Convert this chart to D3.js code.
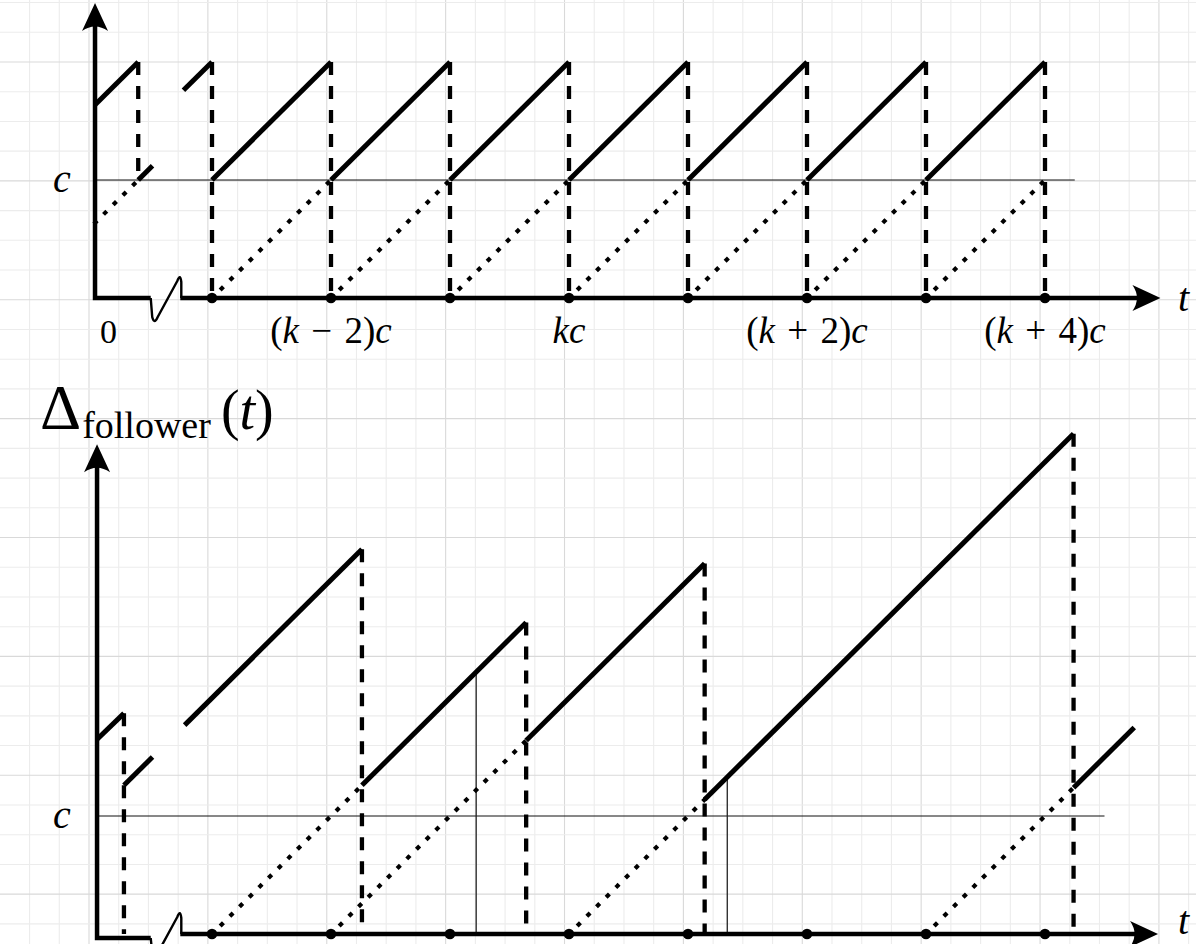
<!DOCTYPE html>
<html><head><meta charset="utf-8">
<script src="https://cdn.jsdelivr.net/npm/d3@7"></script>
<style>html,body{margin:0;padding:0;background:#fff;overflow:hidden}</style>
</head><body>
<svg id="chart" width="1196" height="944"></svg>
<script>
// ---------- data (time in units of c, indices relative to (k-3)c; values in units of c) ----------
const tickIdx = [0, 1, 2, 3, 4, 5, 6, 7];
const tickLabels = [null, ["(", "k", "\u2004\u2212\u2004", "2", ")", "c"], null, ["", "k", "", "", "", "c"], null,
                    ["(", "k", "\u2004+\u2004", "2", ")", "c"], null, ["(", "k", "\u2004+\u2004", "4", ")", "c"]];
// [t0, v0, t1, v1]
const topSolid = [[-0.98, 1.64, -0.62, 2.0], [-0.62, 1.0, -0.5, 1.12], [-0.24, 1.76, 0, 2],
  [0, 1, 1, 2], [1, 1, 2, 2], [2, 1, 3, 2], [3, 1, 4, 2], [4, 1, 5, 2], [5, 1, 6, 2], [6, 1, 7, 2]];
// [t, vTop, vBottom]
const topDashed = [[-0.62, 2, 1], [0, 2, 0], [1, 2, 0], [2, 2, 0], [3, 2, 0], [4, 2, 0], [5, 2, 0], [6, 2, 0], [7, 2, 0]];
const topDotted = [[-0.98, 0.64, -0.62, 1], [0, 0, 1, 1], [1, 0, 2, 1], [2, 0, 3, 1], [3, 0, 4, 1],
  [4, 0, 5, 1], [5, 0, 6, 1], [6, 0, 7, 1]];

const botSolid = [[-0.965, 1.65, -0.74, 1.87], [-0.74, 1.26, -0.5, 1.5], [-0.23, 1.77, 1.26, 3.26],
  [1.26, 1.26, 2.64, 2.64], [2.64, 1.64, 4.14, 3.14], [4.14, 1.14, 7.24, 4.24], [7.24, 1.24, 7.75, 1.75]];
const botDashed = [[-0.74, 1.87, 0], [1.26, 3.26, 0], [2.64, 2.64, 0], [4.14, 3.14, 0], [7.24, 4.24, 0]];
const botDotted = [[0, 0, 1.26, 1.26], [1, 0, 2.64, 1.64], [3, 0, 4.14, 1.14], [6, 0, 7.24, 1.24]];
// [t, v] thin guide verticals
const botGuides = [[2.22, 2.22], [4.33, 1.33]];

// ---------- drawing ----------
const svg = d3.select("#chart");
const W = 1196, H = 944;
const x = d3.scaleLinear().domain([0, 7]).range([212, 1045]);
const yTop = d3.scaleLinear().domain([0, 2]).range([298, 62]);
const yBot = d3.scaleLinear().domain([0, 4]).range([934, 462]);

// graph-paper grid
const g0 = svg.append("g");
const step = 29.72;
d3.range(-3, 38).forEach(n => {
  const gx = 89 + n * step;
  if (gx < 0 || gx > W) return;
  g0.append("line").attr("x1", gx).attr("x2", gx).attr("y1", 0).attr("y2", H)
    .attr("stroke", n % 4 === 0 ? "#d9d9d9" : "#ececec").attr("stroke-width", 1.1);
});
d3.range(-3, 34).forEach(n => {
  const gy = 62 + n * step;
  if (gy < 0 || gy > H) return;
  g0.append("line").attr("x1", 0).attr("x2", W).attr("y1", gy).attr("y2", gy)
    .attr("stroke", n % 4 === 0 ? "#d9d9d9" : "#ececec").attr("stroke-width", 1.1);
});

const serif = "'Liberation Serif', 'Times New Roman', serif";

function arrowH(g, tx, ty) {
  g.append("path").attr("d", `M${tx},${ty} L${tx - 28},${ty - 13} Q${tx - 19},${ty} ${tx - 28},${ty + 13} Z`).attr("fill", "#000");
}
function arrowV(g, tx, ty) {
  g.append("path").attr("d", `M${tx},${ty} L${tx - 13},${ty + 28} Q${tx},${ty + 19} ${tx + 13},${ty + 28} Z`).attr("fill", "#000");
}

function panel(cfg) {
  const { y, solid, dashed, dotted, guides, t0, cEnd, yTipV, cornerY, tipT, tY } = cfg;
  const g = svg.append("g");
  const ox = x(t0), oy = y(0);
  // c level line
  g.append("line").attr("x1", ox).attr("x2", x(cEnd)).attr("y1", y(1)).attr("y2", y(1))
    .attr("stroke", "#111").attr("stroke-width", 1);
  // guides
  (guides || []).forEach(d => {
    g.append("line").attr("x1", x(d[0])).attr("x2", x(d[0])).attr("y1", y(0)).attr("y2", y(d[1]))
      .attr("stroke", "#222").attr("stroke-width", 1.3);
  });
  // dotted
  g.selectAll(".dot").data(dotted).join("line")
    .attr("x1", d => x(d[0])).attr("y1", d => y(d[1])).attr("x2", d => x(d[2])).attr("y2", d => y(d[3]))
    .attr("stroke", "#000").attr("stroke-width", 4.2).attr("stroke-linecap", "square")
    .attr("stroke-dasharray", "0.4 13.2");
  // dashed
  g.selectAll(".dash").data(dashed).join("line")
    .attr("x1", d => x(d[0])).attr("x2", d => x(d[0])).attr("y1", d => y(d[1])).attr("y2", d => y(d[2]))
    .attr("stroke", "#000").attr("stroke-width", 4.3).attr("stroke-dasharray", "13 11");
  // axes
  const bx0 = x(-0.515), bx1 = x(-0.258);
  g.append("path").attr("d", `M${ox},${y(yTipV) + 22} L${ox},${cornerY} L${bx0},${cornerY}`)
    .attr("fill", "none").attr("stroke", "#000").attr("stroke-width", 4.5).attr("stroke-linejoin", "miter");
  arrowV(g, ox, y(yTipV));
  g.append("path").attr("d", `M${bx0},${cornerY} L${bx0 + 1.5},${oy + 19} Q${bx0 + 3.5},${oy + 27} ${bx0 + 7},${oy + 19} L${bx1 - 4},${oy - 17} Q${bx1 - 1},${oy - 25} ${bx1},${oy - 16} L${bx1},${oy}`)
    .attr("fill", "none").attr("stroke", "#000").attr("stroke-width", 2.4).attr("stroke-linejoin", "round");
  g.append("line").attr("x1", bx1 - 1).attr("x2", x(tipT) - 20).attr("y1", oy).attr("y2", oy)
    .attr("stroke", "#000").attr("stroke-width", 4.5);
  arrowH(g, x(tipT), oy);
  // dots on axis
  g.selectAll(".tk").data(tickIdx).join("circle")
    .attr("cx", d => x(d)).attr("cy", oy).attr("r", 5.3).attr("fill", "#000");
  // solid
  g.selectAll(".sol").data(solid).join("line")
    .attr("x1", d => x(d[0])).attr("y1", d => y(d[1])).attr("x2", d => x(d[2])).attr("y2", d => y(d[3]))
    .attr("stroke", "#000").attr("stroke-width", 5).attr("stroke-linecap", "butt");
  // axis label t
  g.append("text").attr("x", 1178).attr("y", tY).attr("font-family", serif).attr("font-style", "italic")
    .attr("font-size", 40).text("t");
  // c label
  g.append("text").attr("x", 62).attr("y", y(1) + 12).attr("text-anchor", "middle").attr("font-family", serif)
    .attr("font-style", "italic").attr("font-size", 40).text("c");
  return g;
}

const gTop = panel({ y: yTop, solid: topSolid, dashed: topDashed, dotted: topDotted, guides: [],
  t0: -0.983, cEnd: 7.25, yTipV: 2.5, cornerY: 298, tipT: 7.97, tY: 311 });
const gBot = panel({ y: yBot, solid: botSolid, dashed: botDashed, dotted: botDotted, guides: botGuides,
  t0: -0.966, cEnd: 7.5, yTipV: 4.15, cornerY: 938, tipT: 7.95, tY: 934 });

// tick labels (top panel)
tickIdx.forEach((d, i) => {
  const parts = tickLabels[i];
  if (!parts) return;
  const t = gTop.append("text").attr("x", x(d)).attr("y", 343).attr("text-anchor", "middle")
    .attr("font-family", serif).attr("font-size", 37);
  parts.forEach((p, j) => {
    if (p === "") return;
    t.append("tspan").attr("font-style", (j === 1 || j === 5) ? "italic" : "normal").text(p);
  });
});
gTop.append("text").attr("x", x(-0.87)).attr("y", 343).attr("text-anchor", "middle")
  .attr("font-family", serif).attr("font-size", 34).text("0");

// y label bottom panel
const lab = svg.append("text").attr("x", 40).attr("y", 429).attr("font-family", serif);
lab.append("tspan").attr("font-size", 64).text("\u0394");
lab.append("tspan").attr("font-size", 38).attr("dy", 9).attr("dx", 1).text("follower");
lab.append("tspan").attr("font-size", 56).attr("dy", -9).attr("dx", 10).text("(");
lab.append("tspan").attr("font-size", 56).attr("font-style", "italic").text("t");
lab.append("tspan").attr("font-size", 56).text(")");
</script>
</body></html>
